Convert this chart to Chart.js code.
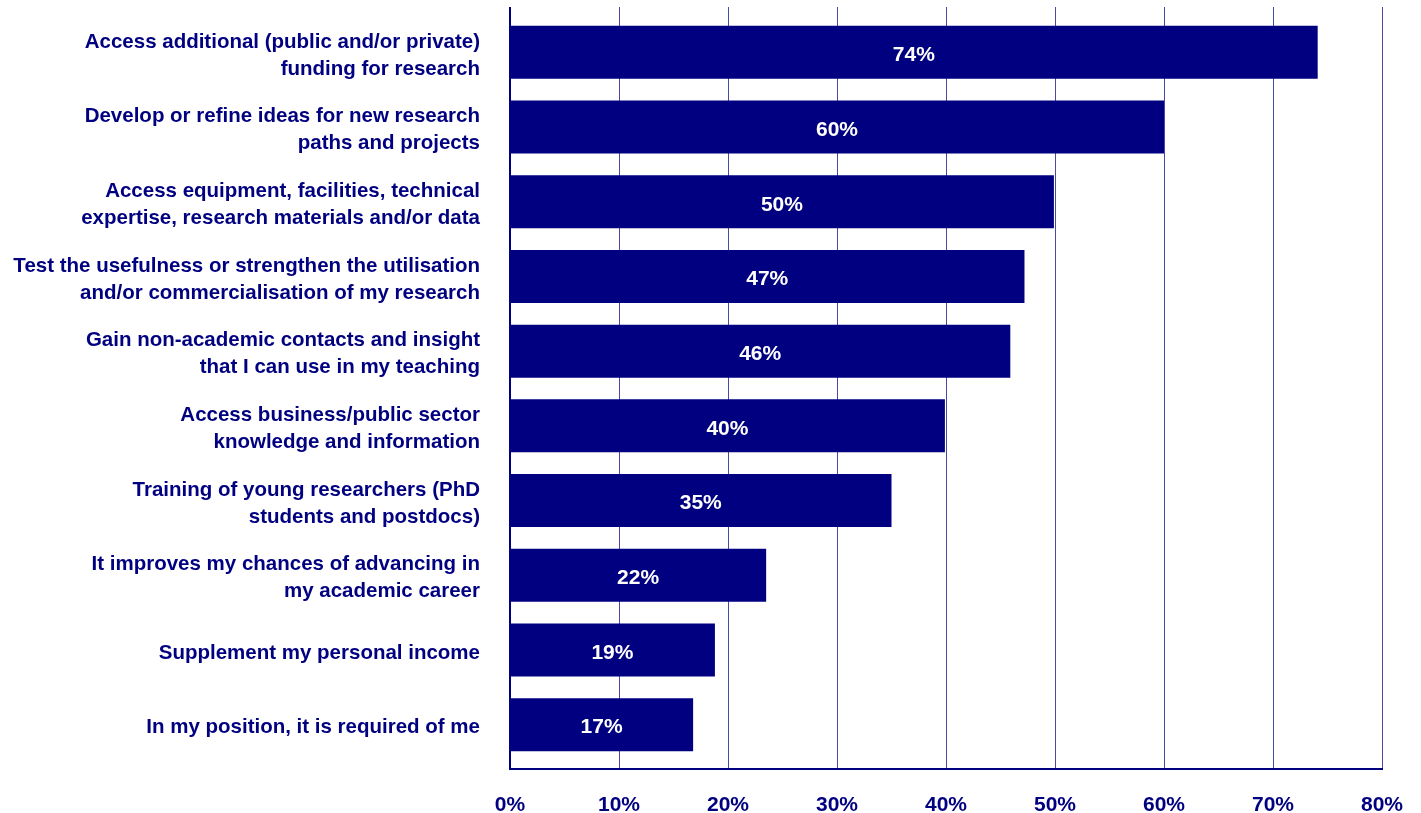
<!DOCTYPE html>
<html>
<head>
<meta charset="utf-8">
<script src="https://cdn.jsdelivr.net/npm/chart.js@4/dist/chart.umd.min.js"></script>
<style>
  html, body { margin: 0; padding: 0; background: #fff; }
  #wrap { width: 1421px; height: 813px; }
</style>
</head>
<body>
<div id="wrap"><canvas id="chart"></canvas></div>
<script>
const categories = [
  ["Access additional (public and/or private)", "funding for research"],
  ["Develop or refine ideas for new research", "paths and projects"],
  ["Access equipment, facilities, technical", "expertise, research materials and/or data"],
  ["Test the usefulness or strengthen the utilisation", "and/or commercialisation of my research"],
  ["Gain non-academic contacts and insight", "that I can use in my teaching"],
  ["Access business/public sector", "knowledge and information"],
  ["Training of young researchers (PhD", "students and postdocs)"],
  ["It improves my chances of advancing in", "my academic career"],
  ["Supplement my personal income"],
  ["In my position, it is required of me"]
];
// bar lengths as drawn
const values = [74.1, 60, 49.9, 47.2, 45.9, 39.9, 35, 23.5, 18.8, 16.8];
// printed labels
const valueLabels = ["74%", "60%", "50%", "47%", "46%", "40%", "35%", "22%", "19%", "17%"];
const xTicks = [0, 10, 20, 30, 40, 50, 60, 70, 80];

const NAVY = "#000080";
const FONT = "'Liberation Sans', Arial, Helvetica, sans-serif";

// gridlines + axis lines, extended a little past the plot area
const frame = {
  id: "frame",
  beforeDatasetsDraw(chart) {
    const { ctx, chartArea, scales } = chart;
    const top = chartArea.top - 8;
    const bottom = chartArea.bottom + 7;
    ctx.save();
    ctx.strokeStyle = "#4a4aa6";
    ctx.lineWidth = 1;
    xTicks.forEach((t) => {
      if (t === 0) return;
      const x = Math.round(scales.x.getPixelForValue(t)) + 0.5;
      ctx.beginPath();
      ctx.moveTo(x, top);
      ctx.lineTo(x, bottom);
      ctx.stroke();
    });
    ctx.strokeStyle = NAVY;
    ctx.lineWidth = 2;
    const x0 = scales.x.getPixelForValue(0);
    const x1 = scales.x.getPixelForValue(80);
    ctx.beginPath();
    ctx.moveTo(x0, top);
    ctx.lineTo(x0, bottom);
    ctx.lineTo(x1 + 1, bottom);
    ctx.stroke();
    ctx.restore();
  },
};

const barLabels = {
  id: "barLabels",
  afterDatasetsDraw(chart) {
    const { ctx } = chart;
    const meta = chart.getDatasetMeta(0);
    ctx.save();
    ctx.fillStyle = "#fff";
    ctx.font = "bold 21px " + FONT;
    ctx.textAlign = "center";
    ctx.textBaseline = "middle";
    meta.data.forEach((bar, i) => {
      const cx = (bar.base + bar.x) / 2;
      ctx.fillText(valueLabels[i], cx, bar.y + 3);
    });
    ctx.restore();
  },
};

new Chart(document.getElementById("chart"), {
  type: "bar",
  data: {
    labels: categories,
    datasets: [
      {
        data: values,
        backgroundColor: NAVY,
        borderWidth: 0,
        barPercentage: 0.71,
        categoryPercentage: 1,
      },
    ],
  },
  options: {
    indexAxis: "y",
    responsive: true,
    maintainAspectRatio: false,
    animation: false,
    layout: { padding: { top: 15, right: 39, left: 0, bottom: 0 } },
    plugins: {
      legend: { display: false },
      tooltip: { enabled: false },
    },
    scales: {
      x: {
        min: 0,
        max: 80,
        grid: { display: false, drawTicks: false },
        border: { display: false },
        afterFit(scale) {
          scale.height = 51;
          scale.paddingLeft = 0;
          scale.paddingRight = 0;
        },
        afterBuildTicks(scale) {
          scale.ticks = xTicks.map((v) => ({ value: v }));
        },
        ticks: {
          padding: 31,
          color: NAVY,
          font: { family: FONT, weight: "bold", size: 21 },
          callback: (v) => v + "%",
        },
      },
      y: {
        grid: { display: false, drawTicks: false },
        border: { display: false },
        afterFit(scale) {
          scale.width = 510;
          scale.paddingTop = 0;
          scale.paddingBottom = 0;
        },
        ticks: {
          padding: 30,
          labelOffset: 3,
          color: NAVY,
          font: { family: FONT, weight: "bold", size: 20.5, lineHeight: "27px" },
        },
      },
    },
  },
  plugins: [frame, barLabels],
});
</script>
</body>
</html>
